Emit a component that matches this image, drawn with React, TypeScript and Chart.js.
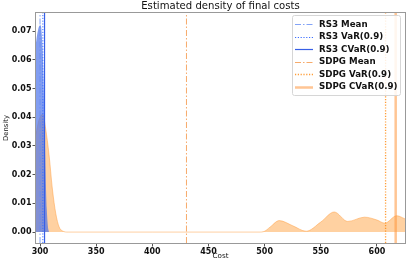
import React, { useEffect, useRef } from "react";
import { Chart, registerables } from "chart.js";

Chart.register(...registerables);

// ---- data ----
const X_MIN = 296.4;
const X_MAX = 625;
const Y_MIN = -0.0038;
const Y_MAX = 0.0763;
const X_TICKS = [300, 350, 400, 450, 500, 550, 600];
const Y_TICKS = [0, 0.01, 0.02, 0.03, 0.04, 0.05, 0.06, 0.07];

const rs3Cost = [296.4, 297.5, 299, 300.5, 302, 303, 304, 305, 306, 307, 308];
const rs3Density = [0.066, 0.069, 0.0715, 0.072, 0.066, 0.055, 0.038, 0.02, 0.008, 0.002, 0];

const sdpgCost = [296.4, 299, 302.5, 305, 308, 311, 314, 317, 320, 325, 400, 495, 500, 505, 513, 525, 537, 550, 562, 574, 589, 600, 607, 617.6, 625];
const sdpgDensity = [0.034, 0.039, 0.041, 0.036, 0.027, 0.015, 0.0065, 0.0018, 0.0004, 0, 0, 0, 0.0003, 0.0018, 0.004, 0.0022, 0.0003, 0.0035, 0.007, 0.0037, 0.0052, 0.0042, 0.0031, 0.0057, 0.0046];

const lineLabels = ["RS3 Mean", "RS3 VaR(0.9)", "RS3 CVaR(0.9)", "SDPG Mean", "SDPG VaR(0.9)", "SDPG CVaR(0.9)"];
const lineCosts = [300, 302.5, 304, 430.4, 607.7, 616.7];

const TITLE = "Estimated density of final costs";

// ---- styles ----
const DASHDOT = [6, 2, 1.5, 2];
const DOTTED = [1.2, 1.6];
const lineStyles = [
  { color: "rgba(100,140,245,0.8)", width: 1, dash: DASHDOT },
  { color: "rgb(60,110,255)", width: 1, dash: DOTTED },
  { color: "rgb(55,95,230)", width: 1.2, dash: [] as number[] },
  { color: "rgba(245,150,70,0.8)", width: 1, dash: DASHDOT },
  { color: "rgba(255,140,20,0.85)", width: 1.3, dash: DOTTED },
  { color: "rgba(255,150,60,0.55)", width: 2.5, dash: [] as number[] },
];

const FONT = "'DejaVu Sans', sans-serif";

const framePlugin = {
  id: "frame",
  afterDatasetsDraw(chart: any) {
    const { ctx, chartArea: a } = chart;
    ctx.save();
    ctx.strokeStyle = "#999";
    ctx.lineWidth = 1;
    ctx.strokeRect(a.left - 0.5, a.top - 0.5, a.right - a.left + 1, a.bottom - a.top + 1);
    ctx.restore();
  },
};

const titlePlugin = {
  id: "customTitle",
  afterDraw(chart: any) {
    const { ctx, chartArea: a } = chart;
    ctx.save();
    ctx.font = `10.1px ${FONT}`;
    ctx.fillStyle = "#111";
    ctx.textAlign = "center";
    ctx.textBaseline = "middle";
    ctx.fillText(TITLE, (a.left + a.right) / 2, 6.5);
    ctx.restore();
  },
};

const legendPlugin = {
  id: "customLegend",
  afterDraw(chart: any) {
    const { ctx } = chart;
    const items = chart.data.datasets.filter((d: any) => d.isMarker);
    const left = 292, top = 15, w = 108, rowH = 12.5, h = 80;
    ctx.save();
    ctx.fillStyle = "rgba(255,255,255,0.85)";
    ctx.strokeStyle = "#d6d6d6";
    ctx.lineWidth = 1;
    ctx.beginPath();
    (ctx as any).roundRect(left + 0.5, top + 0.5, w, h, 2);
    ctx.fill();
    ctx.stroke();
    ctx.font = `bold 8.7px ${FONT}`;
    ctx.textBaseline = "middle";
    ctx.textAlign = "left";
    items.forEach((d: any, i: number) => {
      const y = top + 9 + i * rowH;
      ctx.strokeStyle = d.borderColor;
      ctx.lineWidth = d.borderWidth;
      ctx.setLineDash(d.borderDash || []);
      ctx.beginPath();
      ctx.moveTo(295, Math.round(y) + 0.5);
      ctx.lineTo(313, Math.round(y) + 0.5);
      ctx.stroke();
      ctx.setLineDash([]);
      ctx.fillStyle = "#111";
      ctx.fillText(d.label, 319, y + 0.5);
    });
    ctx.restore();
  },
};

export default function App() {
  const ref = useRef<HTMLCanvasElement | null>(null);
  useEffect(() => {
    if (!ref.current) return;
    const markerSets = lineLabels.map((label, i) => ({
      label,
      isMarker: true,
      data: [
        { x: lineCosts[i], y: Y_MIN },
        { x: lineCosts[i], y: Y_MAX },
      ],
      borderColor: lineStyles[i].color,
      borderWidth: lineStyles[i].width,
      borderDash: lineStyles[i].dash,
      pointRadius: 0,
      fill: false,
      order: 0,
    }));
    const chart = new Chart(ref.current, {
      type: "line",
      data: {
        datasets: [
          ...markerSets,
          {
            label: "rs3",
            data: rs3Cost.map((x, i) => ({ x, y: rs3Density[i] })),
            borderColor: "rgba(65,105,225,0)",
            borderWidth: 0,
            backgroundColor: "rgba(75,115,235,0.7)",
            fill: "origin",
            pointRadius: 0,
            cubicInterpolationMode: "monotone",
            order: 1,
          },
          {
            label: "sdpg",
            data: sdpgCost.map((x, i) => ({ x, y: sdpgDensity[i] })),
            borderColor: "rgba(255,150,50,0.45)",
            borderWidth: 1,
            backgroundColor: "rgba(255,145,30,0.42)",
            fill: "origin",
            pointRadius: 0,
            cubicInterpolationMode: "monotone",
            order: 2,
          },
        ] as any,
      },
      plugins: [framePlugin, legendPlugin, titlePlugin],
      options: {
        animation: false,
        responsive: false,
        devicePixelRatio: 1,
        layout: { padding: { left: 0, right: 2, top: 13, bottom: 0 } },
        plugins: {
          legend: { display: false },
          tooltip: { enabled: false },
          title: { display: false },
        },
        scales: {
          x: {
            type: "linear",
            min: X_MIN,
            max: X_MAX,
            afterBuildTicks: (s: any) => {
              s.ticks = X_TICKS.map((v) => ({ value: v }));
            },
            afterFit: (s: any) => {
              s.height = 24;
            },
            grid: { display: true, drawOnChartArea: false, drawTicks: true, tickLength: 3.5, color: "#555" },
            border: { display: false },
            ticks: {
              color: "#111",
              font: { family: FONT, size: 8, weight: "bold" },
              padding: 1,
              maxRotation: 0,
              autoSkip: false,
              callback: (v: any) => String(v),
            },
            title: {
              display: true,
              text: "Cost",
              color: "#111",
              font: { family: FONT, size: 7.2 },
              padding: { top: 0, bottom: 7 },
            },
          },
          y: {
            type: "linear",
            min: Y_MIN,
            max: Y_MAX,
            afterBuildTicks: (s: any) => {
              s.ticks = Y_TICKS.map((v) => ({ value: v }));
            },
            afterFit: (s: any) => {
              s.width = 36;
            },
            grid: { display: true, drawOnChartArea: false, drawTicks: true, tickLength: 3.5, color: "#555" },
            border: { display: false },
            ticks: {
              color: "#111",
              font: { family: FONT, size: 8, weight: "bold" },
              padding: 1,
              autoSkip: false,
              callback: (v: any) => Number(v).toFixed(2),
            },
            title: {
              display: true,
              text: "Density",
              color: "#111",
              font: { family: FONT, size: 6.8 },
              padding: { top: 2, bottom: 0 },
            },
          },
        },
      } as any,
    });
    return () => chart.destroy();
  }, []);
  return (
    <div style={{ position: "absolute", left: 0, top: 0, width: 407, height: 267, background: "#fff" }}>
      <canvas ref={ref} width={407} height={267} style={{ width: 407, height: 267, display: "block" }} />
    </div>
  );
}
